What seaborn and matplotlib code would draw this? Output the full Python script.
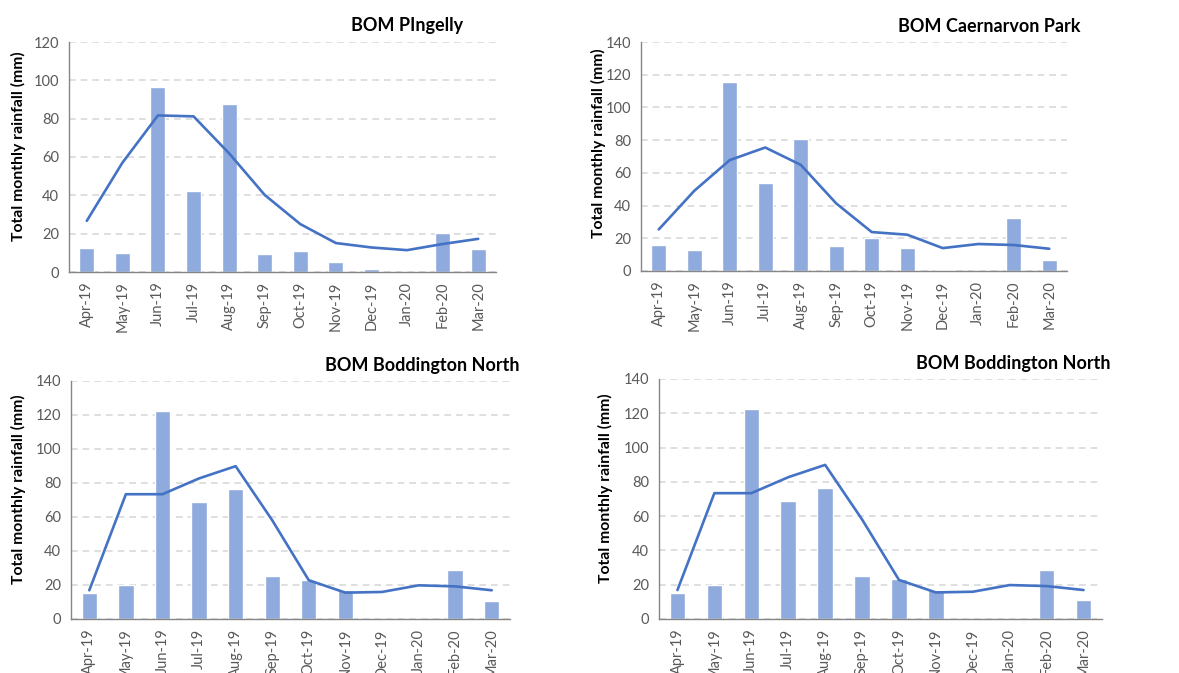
import numpy as np
import pandas as pd
import matplotlib
matplotlib.use("Agg")
import matplotlib.pyplot as plt
import seaborn as sns

months = ["Apr-19", "May-19", "Jun-19", "Jul-19", "Aug-19", "Sep-19",
          "Oct-19", "Nov-19", "Dec-19", "Jan-20", "Feb-20", "Mar-20"]

titles = ["BOM PIngelly", "BOM Caernarvon Park",
          "BOM Boddington North", "BOM Boddington North"]

pingelly_monthly = [12.5, 9.9, 96.6, 42.3, 87.9, 9.5, 10.8, 5.4, 1.7, 0.0, 20.3, 12.1]
pingelly_mean = [26.7, 57.0, 81.7, 81.2, 61.9, 40.2, 25.0, 15.1, 12.8, 11.4, 14.6, 17.3]

caernarvon_monthly = [16.1, 12.8, 115.8, 53.7, 80.6, 15.1, 19.9, 13.8, 0.6, 0.0, 32.2, 6.5]
caernarvon_mean = [25.4, 49.0, 67.8, 75.5, 64.9, 41.3, 23.8, 22.2, 14.0, 16.5, 15.9, 13.6]

boddington_monthly = [15.1, 19.8, 122.3, 68.7, 76.4, 25.1, 23.2, 16.9, 0.0, 0.0, 28.7, 10.8]
boddington_mean = [16.9, 73.4, 73.4, 82.7, 89.9, 58.1, 22.8, 15.5, 15.9, 19.8, 19.2, 16.9]

monthly_series = [pingelly_monthly, caernarvon_monthly, boddington_monthly, boddington_monthly]
mean_series = [pingelly_mean, caernarvon_mean, boddington_mean, boddington_mean]
y_max = [120, 140, 140, 140]

sns.set_style("white")
plt.rcParams["font.family"] = ["Lato", "DejaVu Sans"]

W, H = 1179, 673
fig = plt.figure(figsize=(W / 100, H / 100), dpi=100)

# axes boxes in pixels: left, right, top, bottom
boxes = [(69, 496, 42, 272), (641, 1067, 42, 271),
         (71, 510, 381, 619), (659, 1102, 379, 619)]
title_pos = [(407, 26), (989, 26), (422, 365), (1013, 363)]
ylabel_pos = [(18, 146), (598, 143), (18, 489), (605, 488)]

bar_color = "#8FAADC"
line_color = "#4472C4"
axis_color = "#868686"
text_color = "#595959"

for i in range(4):
    l, r, t, b = boxes[i]
    ax = fig.add_axes([l / W, 1 - b / H, (r - l) / W, (b - t) / H])
    df = pd.DataFrame({"month": months, "monthly": monthly_series[i], "mean": mean_series[i]})
    sns.barplot(data=df, x="month", y="monthly", color=bar_color, saturation=1,
                width=0.42, ax=ax, zorder=2)
    sns.pointplot(data=df, x="month", y="mean", color=line_color, marker="",
                  linewidth=1.9, errorbar=None, ax=ax, zorder=3)
    ax.set_xlim(-0.5, len(months) - 0.5)
    ax.set_ylim(0, y_max[i])
    ax.set_yticks(np.arange(0, y_max[i] + 1, 20))
    ax.yaxis.grid(True, color="#D9D9D9", linestyle=(0, (4, 3)), linewidth=1.2, zorder=0)
    ax.set_axisbelow(True)
    ax.set_xlabel("")
    ax.set_ylabel("")
    for s in ["top", "right"]:
        ax.spines[s].set_visible(False)
    for s in ["left", "bottom"]:
        ax.spines[s].set_color(axis_color)
        ax.spines[s].set_linewidth(1.0)
    ax.tick_params(axis="y", length=4, width=1, color=axis_color, labelsize=10.5,
                   labelcolor=text_color, pad=3)
    ax.tick_params(axis="x", which="major", length=0, labelsize=10.5,
                   labelcolor=text_color, pad=7, labelrotation=90)
    ax.set_xticks(np.arange(-0.5, len(months), 1), minor=True)
    ax.tick_params(axis="x", which="minor", length=5, width=1, color=axis_color)
    tx, ty = title_pos[i]
    fig.text(tx / W, 1 - ty / H, titles[i], ha="center", va="center",
             fontsize=13, fontweight="bold", color="black")
    lx, ly = ylabel_pos[i]
    fig.text(lx / W, 1 - ly / H, "Total monthly rainfall (mm)", ha="center",
             va="center", rotation=90, fontsize=11.3, fontweight="bold", color="black")

fig.savefig("out.png", dpi=100, facecolor="white")
